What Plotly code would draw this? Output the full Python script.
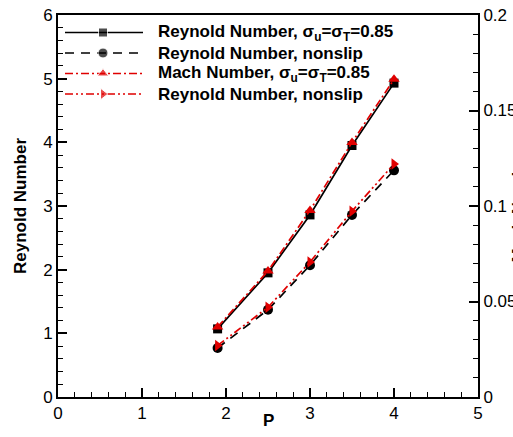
import plotly.graph_objects as go

# Pressure ratio samples
P = [1.9, 2.5, 3.0, 3.5, 4.0]

# Reynold number (left axis)
re_slip = [1.07, 1.95, 2.86, 3.95, 4.93]
re_nonslip = [0.77, 1.37, 2.07, 2.86, 3.56]

# Mach-axis series (right axis)
ma_slip = [0.0367, 0.066, 0.0977, 0.1333, 0.1663]
ma_nonslip = [0.027, 0.047, 0.0707, 0.0973, 0.122]

legend_labels = [
    "Reynold Number, σ<sub>u</sub>=σ<sub>T</sub>=0.85",
    "Reynold Number, nonslip",
    "Mach Number, σ<sub>u</sub>=σ<sub>T</sub>=0.85",
    "Reynold Number, nonslip",
]

FONT = "Liberation Sans, Arial, Helvetica, sans-serif"
RED = "#e00000"

styles = [
    dict(color="black", dash="solid", symbol="square", size=9),
    dict(color="black", dash="9px,7px", symbol="circle", size=10),
    dict(color=RED, dash="8px,3px,2px,3px", symbol="triangle-up", size=10),
    dict(color=RED, dash="8px,3px,2px,3px,2px,3px", symbol="triangle-right", size=10),
]

fig = go.Figure()

series = [(re_slip, "y"), (re_nonslip, "y"), (ma_slip, "y2"), (ma_nonslip, "y2")]
for (vals, ax), st in zip(series, styles):
    fig.add_trace(go.Scatter(
        x=P, y=vals, yaxis=ax, mode="lines+markers", showlegend=False,
        line=dict(color=st["color"], dash=st["dash"], width=1.7),
        marker=dict(symbol=st["symbol"], size=st["size"], color=st["color"]),
    ))

# Legend drawn on a pixel-scaled overlay axis pair
leg_rows = [32.5, 53, 73.5, 94]
for row, st, label in zip(leg_rows, styles, legend_labels):
    fig.add_trace(go.Scatter(
        x=[7, 45, 85], y=[row - 15] * 3, xaxis="x2", yaxis="y3",
        mode="lines+markers", showlegend=False, hoverinfo="skip",
        line=dict(color=st["color"], dash=st["dash"], width=1.7),
        marker=dict(symbol=st["symbol"], size=[0, st["size"], 0], color=st["color"]),
    ))
    fig.add_annotation(
        x=98, y=row - 15, xref="x2", yref="y3", text=label, showarrow=False,
        xanchor="left", yanchor="middle",
        font=dict(family=FONT, size=17, color="black", weight="bold"),
    )

title_font = dict(family=FONT, size=17, color="black", weight="bold")

# Axis titles
fig.add_annotation(
    x=(20 - 58) / 420, y=0.5, xref="paper", yref="paper", text="Reynold Number",
    textangle=-90, showarrow=False, xanchor="center", yanchor="middle", font=title_font,
)
fig.add_annotation(
    x=0.5, y=(397 - 420) / 382, xref="paper", yref="paper", text="P",
    showarrow=False, xanchor="center", yanchor="middle", font=title_font,
)
fig.add_annotation(
    x=(506 - 58) / 420, y=0.5, xref="paper", yref="paper", text="Mach Number",
    textangle=-90, showarrow=False, xanchor="left", yanchor="middle", font=title_font,
)

tickfont = dict(family=FONT, size=17, color="black")
axis_common = dict(
    showgrid=False, zeroline=False, showline=True, linecolor="black", linewidth=2,
    ticks="inside", ticklen=9, tickwidth=1.5, tickcolor="black", tickfont=tickfont,
    automargin=False,
)

fig.update_layout(
    width=513, height=437,
    margin=dict(l=58, r=35, t=15, b=40),
    plot_bgcolor="white", paper_bgcolor="white",
    font=dict(family=FONT, color="black"),
    xaxis=dict(
        range=[0, 5], dtick=1, mirror=True,
        minor=dict(dtick=0.2, ticks="inside", ticklen=5, tickwidth=1, tickcolor="black"),
        **axis_common,
    ),
    yaxis=dict(
        range=[0, 6], dtick=1,
        minor=dict(dtick=0.2, ticks="inside", ticklen=5, tickwidth=1, tickcolor="black"),
        **axis_common,
    ),
    yaxis2=dict(
        range=[0, 0.2], dtick=0.05, overlaying="y", side="right",
        minor=dict(dtick=0.01, ticks="inside", ticklen=5, tickwidth=1, tickcolor="black"),
        **axis_common,
    ),
    xaxis2=dict(range=[0, 420], overlaying="x", visible=False, fixedrange=True),
    yaxis3=dict(range=[382, 0], overlaying="y", visible=False, fixedrange=True),
)

fig.write_html("out.html")
